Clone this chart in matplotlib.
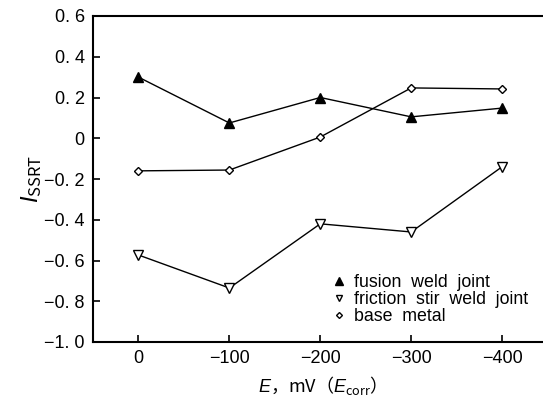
import numpy as np
import matplotlib.pyplot as plt

plt.rcParams['font.family'] = ['Liberation Sans', 'Noto Sans CJK SC', 'DejaVu Sans']
plt.rcParams['mathtext.fontset'] = 'custom'
plt.rcParams['mathtext.rm'] = 'Noto Sans CJK SC'
plt.rcParams['mathtext.it'] = 'Liberation Sans:italic'

# potential (mV vs E_corr)
potentials = ['0', '\u2212100', '\u2212200', '\u2212300', '\u2212400']
fusion = [0.30, 0.075, 0.20, 0.105, 0.148]
friction = [-0.573, -0.735, -0.42, -0.46, -0.14]
base = [-0.16, -0.156, 0.006, 0.247, 0.242]

yticks = [0.6, 0.4, 0.2, 0, -0.2, -0.4, -0.6, -0.8, -1.0]
ylabels = ['0. 6', '0. 4', '0. 2', '0', '\u22120. 2', '\u22120. 4', '\u22120. 6', '\u22120. 8', '\u22121. 0']

x = np.arange(len(potentials))

fig = plt.figure(figsize=(5.43, 4.03), dpi=100)
ax = fig.add_axes([93/543, 61/403, 450/543, 326/403])

ax.plot(x, fusion, color='black', lw=1.0, marker='^', ms=7,
        mfc='black', mec='black', label='fusion  weld  joint')
ax.plot(x, friction, color='black', lw=1.0, marker='v', ms=6.5,
        mfc='white', mec='black', mew=1.0, label='friction  stir  weld  joint')
ax.plot(x, base, color='black', lw=1.0, marker='D', ms=4,
        mfc='white', mec='black', mew=1.0, label='base  metal')

ax.set_xlim(-0.5, 4.45)
ax.set_ylim(-1.0, 0.6)
ax.set_xticks(x)
ax.set_xticklabels(potentials)
ax.set_yticks(yticks)
ax.set_yticklabels(ylabels)
ax.tick_params(direction='in', length=5, width=1.2, labelsize=13, pad=6)
ax.spines['right'].set_visible(False)
for s in ['left', 'top', 'bottom']:
    ax.spines[s].set_linewidth(1.5)

ax.set_xlabel('$E\\mathrm{\uff0cmV\uff08}E_{\\mathrm{corr}}\\mathrm{\uff09}$', fontsize=13, labelpad=5)
ax.set_ylabel('$I_{\\mathrm{SSRT}}$', fontsize=17, labelpad=0)

leg = ax.legend(loc='lower left', bbox_to_anchor=(0.52, 0.03), frameon=False,
                fontsize=12.8, handlelength=0.6, handletextpad=0.5,
                labelspacing=0.0, markerscale=0.75, borderaxespad=0)
for h in leg.legend_handles:
    h.set_linestyle('')

fig.savefig('out.png', dpi=100)
